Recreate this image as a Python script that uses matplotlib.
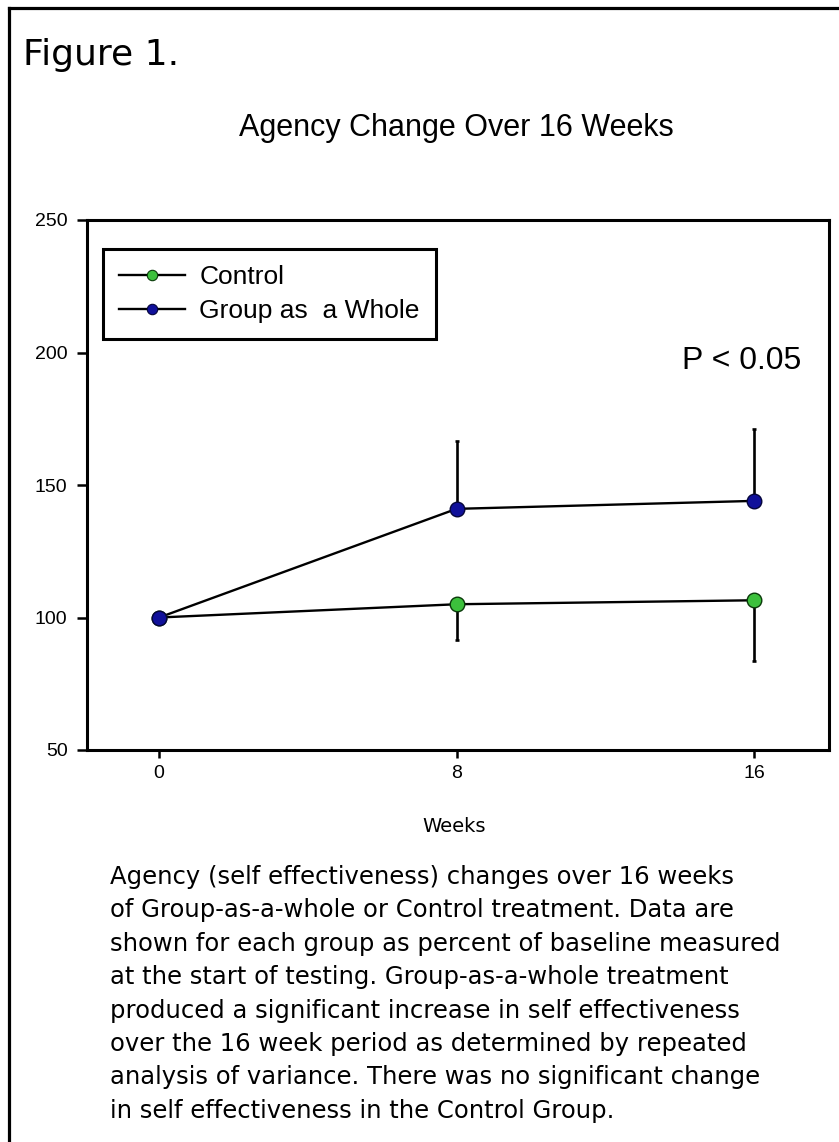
import matplotlib
matplotlib.use("Agg")
import matplotlib.pyplot as plt
from matplotlib.lines import Line2D

plt.rcParams["font.family"] = ["Liberation Sans", "DejaVu Sans"]

# data: percent of baseline, one-sided SEM bars
weeks = [0, 8, 16]
control = [100, 105, 106.5]
control_err_low = [0, 13.5, 22.8]
group_whole = [100, 141, 144]
group_err_high = [0, 25.5, 27]

series_names = ["Control", "Group as  a Whole"]
y_ticks = [50, 100, 150, 200, 250]

CONTROL_COLOR = "#3CC03C"
GROUP_COLOR = "#10109A"
PLAIN = ["DejaVu Sans"]

caption_lines = [
    "Agency (self effectiveness) changes over 16 weeks",
    "of Group-as-a-whole or Control treatment. Data are",
    "shown for each group as percent of baseline measured",
    "at the start of testing. Group-as-a-whole treatment",
    "produced a significant increase in self effectiveness",
    "over the 16 week period as determined by repeated",
    "analysis of variance. There was no significant change",
    "in self effectiveness in the Control Group.",
]

W, H = 839, 1142
fig = plt.figure(figsize=(W / 100, H / 100), dpi=100)
fig.patch.set_facecolor("white")

# frame around the figure (left and top edges)
fig.add_artist(Line2D([8.5 / W, 8.5 / W], [0, 1 - 7.5 / H], color="black", lw=2.3,
                      transform=fig.transFigure))
fig.add_artist(Line2D([8.5 / W, 1], [1 - 7.5 / H, 1 - 7.5 / H], color="black", lw=2.3,
                      transform=fig.transFigure))

ax = fig.add_axes([87 / W, 1 - 750 / H, 742 / W, 530 / H])

# lines first, error bars, then markers on top
ax.errorbar(weeks, control, yerr=[control_err_low, [0, 0, 0]], fmt="none",
            ecolor="black", elinewidth=1.9, capsize=1.5, capthick=1.9, zorder=2)
ax.errorbar(weeks, group_whole, yerr=[[0, 0, 0], group_err_high], fmt="none",
            ecolor="black", elinewidth=1.9, capsize=1.5, capthick=1.9, zorder=2)
ax.plot(weeks, control, color="black", lw=1.7, zorder=3)
ax.plot(weeks, group_whole, color="black", lw=1.7, zorder=3)
ax.plot(weeks, control, ls="none", marker="o", ms=10.5, mfc=CONTROL_COLOR,
        mec="#0A3A0A", mew=1.0, zorder=4)
ax.plot(weeks, group_whole, ls="none", marker="o", ms=10.5, mfc=GROUP_COLOR,
        mec="#05053A", mew=1.0, zorder=5)

ax.set_xlim(-1.94, 18.02)
ax.set_ylim(50, 250)
ax.set_xticks(weeks)
ax.set_yticks(y_ticks)
ax.tick_params(axis="both", direction="out", width=1.8, labelsize=14)
ax.tick_params(axis="y", length=7, pad=7)
ax.tick_params(axis="x", length=6, pad=5)
for sp in ax.spines.values():
    sp.set_linewidth(2.2)

ax.set_xlabel("Weeks", fontsize=14, family=PLAIN)
ax.xaxis.set_label_coords(0.495, (750 - 827) / 530)
ax.xaxis.label.set_va("center")

# legend with smaller markers than the data points
handles = [
    Line2D([], [], color="black", lw=1.7, marker="o", ms=7.5, mfc=CONTROL_COLOR,
           mec="#0A3A0A", mew=0.8),
    Line2D([], [], color="black", lw=1.7, marker="o", ms=7.5, mfc=GROUP_COLOR,
           mec="#05053A", mew=0.8),
]
leg = ax.legend(handles, series_names, loc="upper left",
                bbox_to_anchor=(16 / 742, (750 - 249) / 530), borderaxespad=0,
                fontsize=19, handlelength=2.5, handletextpad=0.55,
                borderpad=0.6, labelspacing=0.4, fancybox=False,
                framealpha=1, edgecolor="black")
leg.get_frame().set_linewidth(2.2)

ax.text((682 - 87) / 742, (750 - 369) / 530, "P < 0.05", transform=ax.transAxes,
        fontsize=23, ha="left", va="baseline")

# headings
fig.text(23 / W, 1 - 65 / H, "Figure 1.", fontsize=26, family=PLAIN,
         ha="left", va="baseline")
fig.text(456 / W, 1 - 136 / H, "Agency Change Over 16 Weeks", fontsize=22,
         ha="center", va="baseline")

# caption below the chart
for i, line in enumerate(caption_lines):
    fig.text(110 / W, 1 - (884 + i * 33.4) / H, line, fontsize=17.5,
             family=PLAIN, ha="left", va="baseline")

fig.savefig("out.png", dpi=100)
